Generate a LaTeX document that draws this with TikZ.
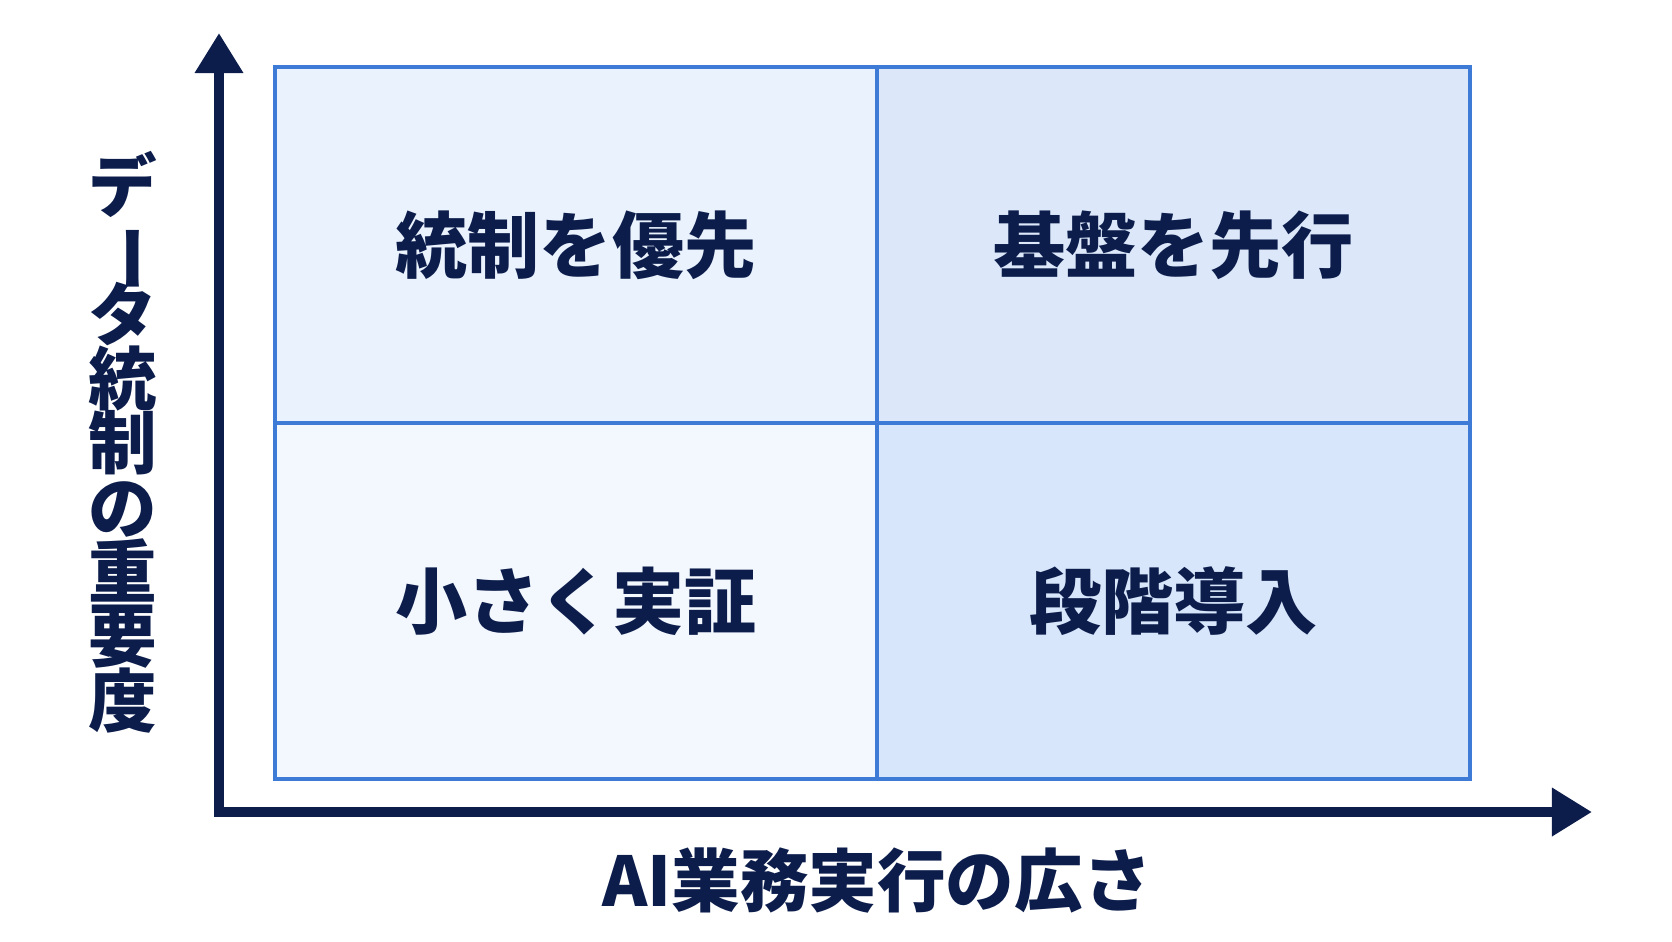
\documentclass[tikz,border=0pt]{standalone}
\usepackage{fontspec}
\newfontfamily\jp{Noto Sans CJK JP}
\usetikzlibrary{arrows.meta}

\definecolor{navy}{HTML}{0C1D4C}
\definecolor{qborder}{HTML}{3D7BD6}
\definecolor{qtl}{HTML}{EAF2FD}
\definecolor{qtr}{HTML}{DCE8FA}
\definecolor{qbl}{HTML}{F3F7FE}
\definecolor{qbr}{HTML}{D7E6FA}
\newcommand\tightlines{\lineskiplimit=-20pt\relax}

\tikzset{
  quad/.style={draw=qborder,line width=1.3pt,minimum height=3.56cm,
    text=navy,font=\jp\bfseries\fontsize{20.5}{24}\selectfont},
  axis/.style={navy,line width=2.8pt,
    {Triangle[width=0.46cm,length=0.40cm]}-{Triangle[width=0.46cm,length=0.40cm]}},
  axislabel/.style={text=navy,
    font=\jp\bfseries\fontsize{19.5}{18.3}\selectfont\tightlines,
    align=center,inner sep=0pt}
}

\begin{document}
\begin{tikzpicture}[x=0.01cm,y=-0.01cm]
\useasboundingbox (0,0) rectangle (1672,941);

% Quadrants
\node[quad,fill=qtl,minimum width=6.02cm] (tl) at (576,245) {統制を優先};
\node[quad,fill=qtr,minimum width=5.93cm] (tr) at (1173.5,245) {基盤を先行};
\node[quad,fill=qbl,minimum width=6.02cm] (bl) at (576,601) {小さく実証};
\node[quad,fill=qbr,minimum width=5.93cm] (br) at (1173.5,601) {段階導入};

% Axes
\coordinate (origin) at (219,812);
\coordinate (ytip) at (219,33);
\coordinate (xtip) at (1592,812);
\draw[axis] (ytip) -- (origin) -- (xtip);

% Axis labels
\node[axislabel] (xlab) at (877,880) {AI業務実行の広さ};
\node[axislabel] (ylab) at (123,442)
  {デ\\\rotatebox[origin=c]{-90}{ー}\\タ\\統\\制\\の\\重\\要\\度};
\end{tikzpicture}
\end{document}
